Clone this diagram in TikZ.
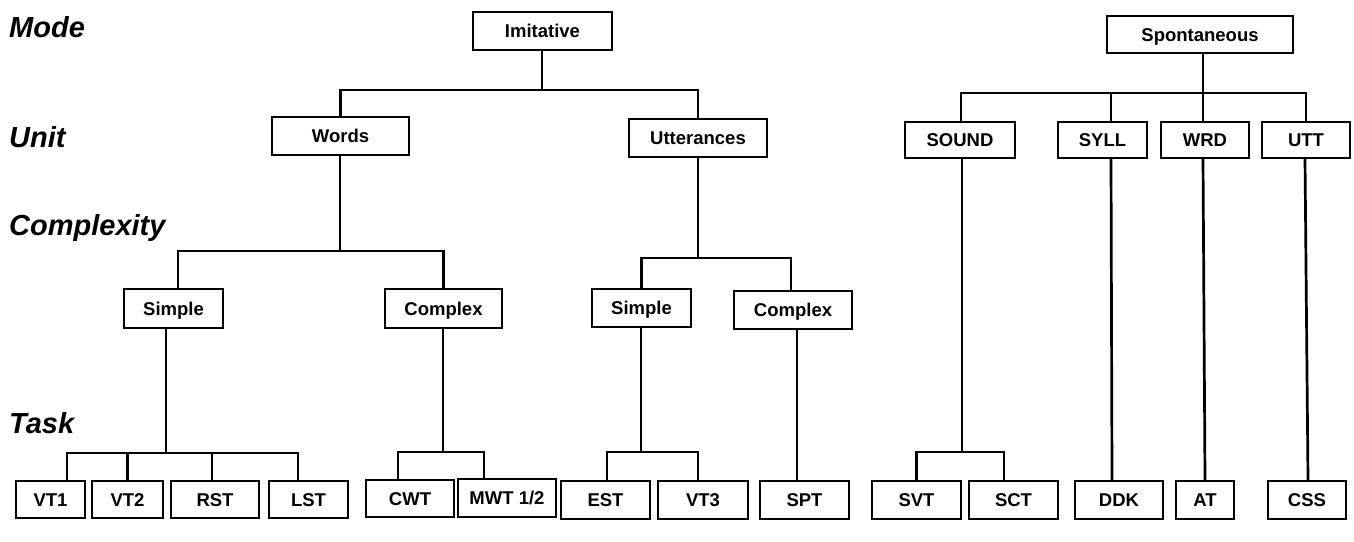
\documentclass[tikz,border=0pt]{standalone}
\usepackage{fontspec}
\setmainfont{Liberation Sans}
\begin{document}
\begin{tikzpicture}[x=1pt,y=-1pt,
  box/.style={draw, line width=2.8pt, inner sep=0pt, minimum height=38pt,
    text height=13.5pt, text depth=0pt, font=\bfseries\fontsize{18.5}{20}\selectfont},
  conn/.style={line width=2.7pt, line cap=rect},
  lvl/.style={anchor=base west, inner sep=0pt, font=\bfseries\itshape\fontsize{29}{32}\selectfont}]
\useasboundingbox (0,0) rectangle (1354,541);
% level labels
\node[lvl] (lMode) at (9,37) {Mode};
\node[lvl] (lUnit) at (9,147) {Unit};
\node[lvl] (lCplx) at (9,235) {Complexity};
\node[lvl] (lTask) at (9,433) {Task};
% mode
\node[box, minimum width=139pt] (imit) at (542.5,31) {Imitative};
\node[box, minimum width=186pt, minimum height=37pt] (spont) at (1200,34.5) {Spontaneous};
% unit
\node[box, minimum width=137pt] (words) at (340.5,136) {Words};
\node[box, minimum width=138pt] (utter) at (698,138) {Utterances};
\node[box, minimum width=110pt, minimum height=36pt] (sound) at (960,140) {SOUND};
\node[box, minimum width=89pt, minimum height=36pt] (syll) at (1102.5,140) {SYLL};
\node[box, minimum width=88pt, minimum height=36pt] (wrd) at (1205,140) {WRD};
\node[box, minimum width=88pt, minimum height=36pt] (utt) at (1306,140) {UTT};
% complexity
\node[box, minimum width=99pt, minimum height=39pt] (simpL) at (173.5,308.5) {Simple};
\node[box, minimum width=117pt, minimum height=39pt] (cplxL) at (443.5,308.5) {Complex};
\node[box, minimum width=99pt] (simpR) at (641.5,308) {Simple};
\node[box, minimum width=118pt] (cplxR) at (793,310) {Complex};
% tasks
\node[box, minimum width=69pt, minimum height=37pt] (vt1) at (50.5,499.5) {VT1};
\node[box, minimum width=71pt, minimum height=37pt] (vt2) at (127.5,499.5) {VT2};
\node[box, minimum width=88pt, minimum height=37pt] (rst) at (215,499.5) {RST};
\node[box, minimum width=79pt, minimum height=37pt] (lst) at (308.5,499.5) {LST};
\node[box, minimum width=88pt, minimum height=37pt] (cwt) at (410,498.5) {CWT};
\node[box, minimum width=98pt] (mwt) at (507,498) {MWT 1/2};
\node[box, minimum width=89pt] (est) at (605.5,500) {EST};
\node[box, minimum width=90pt] (vt3) at (703,500) {VT3};
\node[box, minimum width=89pt] (spt) at (804.5,500) {SPT};
\node[box, minimum width=89pt] (svt) at (916.5,500) {SVT};
\node[box, minimum width=89pt] (sct) at (1013.5,500) {SCT};
\node[box, minimum width=88pt] (ddk) at (1119,500) {DDK};
\node[box, minimum width=58pt] (at) at (1205,500) {AT};
\node[box, minimum width=78pt] (css) at (1307,500) {CSS};
% junctions
\coordinate (jI) at (542,90);
\coordinate (jS) at (1203,93);
\coordinate (jW) at (340,251);
\coordinate (jU) at (698,258);
\coordinate (jSL) at (166,453);
\coordinate (jCL) at (443,452);
\coordinate (jSR) at (641,452);
\coordinate (jSo) at (962,452);
% imitative
\draw[conn] (imit.south -| jI) -- (jI);
\draw[conn] (words.north) |- (jI) -| (utter.north);
% spontaneous
\draw[conn] (spont.south -| jS) -- (jS);
\draw[conn] ([xshift=1pt]sound.north) |- (jS) -| (utt.north);
\draw[conn] ([xshift=8.5pt]syll.north) -- ([xshift=8.5pt]syll.north |- jS);
\draw[conn] ([xshift=-2pt]wrd.north) -- ([xshift=-2pt]wrd.north |- jS);
% words
\draw[conn] (words.south -| jW) -- (jW);
\draw[conn] ([xshift=4.5pt]simpL.north) |- (jW) -| (cplxL.north);
% utterances
\draw[conn] (utter.south) -- (jU);
\draw[conn] (simpR.north) |- (jU) -| ([xshift=-2pt]cplxR.north);
% simple (words)
\draw[conn] (simpL.south -| jSL) -- (jSL);
\draw[conn] ([xshift=16.5pt]vt1.north) |- (jSL) -| ([xshift=-10.5pt]lst.north);
\draw[conn] (vt2.north) -- (vt2.north |- jSL);
\draw[conn] ([xshift=-3pt]rst.north) -- ([xshift=-3pt]rst.north |- jSL);
% complex (words)
\draw[conn] (cplxL.south -| jCL) -- (jCL);
\draw[conn] ([xshift=-12pt]cwt.north) |- (jCL) -| ([xshift=-23pt]mwt.north);
% simple (utterances)
\draw[conn] (simpR.south -| jSR) -- (jSR);
\draw[conn] ([xshift=1.5pt]est.north) |- (jSR) -| ([xshift=-5pt]vt3.north);
% complex (utterances)
\draw[conn] ([xshift=4pt]cplxR.south) -- ([xshift=-7.5pt]spt.north);
% sound
\draw[conn] ([xshift=2pt]sound.south) -- (jSo);
\draw[conn] (svt.north) |- (jSo) -| ([xshift=-9.5pt]sct.north);
% syll, wrd, utt
\draw[conn] ([xshift=8.5pt]syll.south) -- ([xshift=-7pt]ddk.north);
\draw[conn] ([xshift=-2pt]wrd.south) -- (at.north);
\draw[conn] ([xshift=-1pt]utt.south) -- ([xshift=1pt]css.north);
\end{tikzpicture}
\end{document}
